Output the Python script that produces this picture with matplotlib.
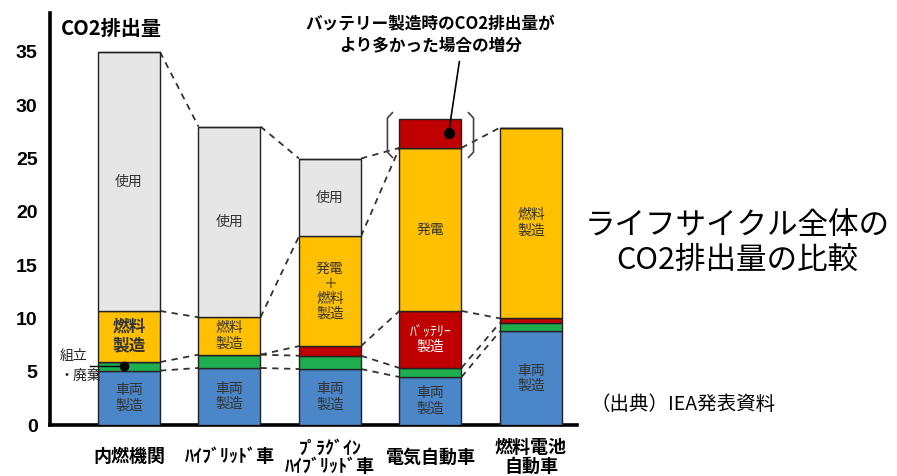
import matplotlib
matplotlib.use("Agg")
import matplotlib.pyplot as plt
import numpy as np

JP = ['Noto Sans CJK JP', 'DejaVu Sans']
NUM = ['Liberation Sans', 'DejaVu Sans']

categories = ['内燃機関', 'ﾊｲﾌﾞﾘｯﾄﾞ車', 'ﾌﾟﾗｸﾞｲﾝ\nﾊｲﾌﾞﾘｯﾄﾞ車', '電気自動車', '燃料電池\n自動車']
vehicle = [5.1, 5.35, 5.25, 4.5, 8.8]      # 車両製造
assembly = [0.8, 1.25, 1.25, 0.85, 0.8]    # 組立・廃棄
battery = [0.0, 0.0, 0.9, 5.35, 0.4]       # バッテリー製造
fuel = [4.8, 3.5, 10.3, 15.3, 17.9]        # 燃料製造 / 発電
use = [24.3, 17.9, 7.3, 0.0, 0.0]          # 使用
extra = [0.0, 0.0, 0.0, 2.7, 0.0]          # バッテリー製造時の増分
yticks = [0, 5, 10, 15, 20, 25, 30, 35]

use_labels = ['使用', '使用', '使用', '', '']
fuel_labels = ['燃料\n製造', '燃料\n製造', '発電\n＋\n燃料\n製造', '発電', '燃料\n製造']
battery_labels = ['', '', '', 'ﾊﾞｯﾃﾘｰ\n製造', '']
vehicle_labels = ['車両\n製造'] * 5

colors = {
    'vehicle': '#4a86c8',
    'assembly': '#1fae4f',
    'battery': '#c00000',
    'fuel': '#ffc000',
    'use': '#e6e6e6',
    'extra': '#c00000',
}

fig = plt.figure(figsize=(8.97, 4.76), dpi=100)
ax = fig.add_axes([50 / 897, 51 / 476, 527 / 897, 412 / 476])

x = np.arange(len(categories))
w = 0.617
series = [vehicle, assembly, battery, fuel, use, extra]
keys = ['vehicle', 'assembly', 'battery', 'fuel', 'use', 'extra']
bottom = np.zeros(len(categories))
bounds = []
for vals, k in zip(series, keys):
    vals = np.array(vals)
    ax.bar(x, vals, w, bottom=bottom, color=colors[k], edgecolor='#222222',
           linewidth=1.0, zorder=3)
    bottom = bottom + vals
    bounds.append(bottom.copy())

# dashed connector lines (vehicle, assembly, battery, fuel, use tops)
for i in range(len(categories) - 1):
    seen = set()
    for b in bounds[:5]:
        key = (round(b[i], 3), round(b[i + 1], 3))
        if key in seen:
            continue
        seen.add(key)
        ax.plot([x[i] + w / 2, x[i + 1] - w / 2], [b[i], b[i + 1]],
                color='#333333', lw=1.3, ls=(0, (3.5, 3)), zorder=2)

# segment labels
def seg_text(i, lo, hi, s, color='#333333', size=10, weight='normal'):
    if s:
        ax.text(x[i], (lo + hi) / 2, s, ha='center', va='center', fontsize=size,
                color=color, family=JP, weight=weight, linespacing=1.1, zorder=5)

for i in range(len(categories)):
    seg_text(i, 0, bounds[0][i], vehicle_labels[i])
    seg_text(i, bounds[1][i], bounds[2][i], battery_labels[i], color='white')
    seg_text(i, bounds[2][i], bounds[3][i], fuel_labels[i],
             size=12 if i == 0 else 10, weight='bold' if i == 0 else 'normal')
    seg_text(i, bounds[3][i], bounds[4][i], use_labels[i])

# axes styling
ax.set_xlim(-0.786, 4.458)
ax.set_ylim(0, 38.65)
for s in ['top', 'right']:
    ax.spines[s].set_visible(False)
for s in ['left', 'bottom']:
    ax.spines[s].set_linewidth(2.6)
    ax.spines[s].set_color('black')
ax.set_yticks(yticks)
ax.set_yticklabels([str(v) for v in yticks], family=NUM, fontsize=14, weight='bold')
ax.tick_params(axis='y', length=0, pad=9)
ax.set_xticks([])
ax.patch.set_alpha(0)

for i, c in enumerate(categories):
    ax.text(x[i], -3.0, c, ha='center', va='center', fontsize=13, weight='bold',
            family=JP, linespacing=0.95, clip_on=False)

ax.text(-0.68, 37.2, 'CO2排出量', ha='left', va='center', fontsize=14.5,
        weight='bold', family=JP)

# 組立・廃棄 callout
ax.text(-0.69, 6.5, '組立', ha='left', va='center', fontsize=10, family=JP, color='#222222')
ax.text(-0.69, 4.6, '・廃棄', ha='left', va='center', fontsize=10, family=JP, color='#222222')
ym = vehicle[0] + assembly[0] / 2
ax.plot([-0.39, x[0] - 0.05], [ym, ym], color='black', lw=1.0, zorder=6)
ax.plot([x[0] - 0.05], [ym], 'o', color='black', ms=6, zorder=7)

# bracket around EV increment
ev = 3
top_ev = bounds[5][ev]
base_ev = bounds[4][ev]
y1, y0 = top_ev + 0.6, base_ev - 0.9
for side in (-1, 1):
    xe = x[ev] + side * (w / 2 + 0.12)
    xi = xe - side * 0.05
    ax.plot([xi, xe, xe, xi], [y1, y1 - 0.5, y0 + 0.5, y0], color='#444444',
            lw=1.2, zorder=4, clip_on=False)

ym2 = (base_ev + top_ev) / 2
ax.plot([x[ev] + 0.18], [ym2], 'o', color='black', ms=7, zorder=7)
ax.annotate('バッテリー製造時のCO2排出量が\nより多かった場合の増分',
            xy=(x[ev] + 0.18, ym2), xytext=(x[ev] + 0.0, 36.6),
            ha='center', va='center', fontsize=12, weight='bold', family=JP,
            linespacing=1.25, annotation_clip=False,
            arrowprops=dict(arrowstyle='-', color='black', lw=1.2,
                            shrinkA=3, shrinkB=0, relpos=(0.62, 0.0)))

fig.text(737 / 897, 1 - 243 / 476, 'ライフサイクル全体の\nCO2排出量の比較',
         ha='center', va='center', fontsize=22, family=JP, linespacing=1.15)
fig.text(590 / 897, 1 - 405 / 476, '（出典）IEA発表資料', ha='left', va='center',
         fontsize=14, family=JP)

fig.savefig('out.png', dpi=100)
